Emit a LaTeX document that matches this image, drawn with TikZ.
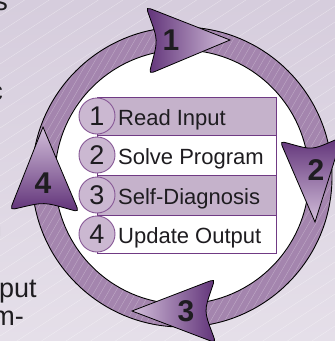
\documentclass[tikz,border=0pt]{standalone}
\usepackage{fontspec}
\setmainfont{Liberation Sans}
\usetikzlibrary{calc}

\definecolor{bgtop}{RGB}{214,205,221}
\definecolor{bgbot}{RGB}{229,223,233}
\definecolor{ringfill}{RGB}{164,133,174}
\definecolor{arrowdark}{RGB}{96,50,120}
\definecolor{arrowlight}{RGB}{210,190,218}
\definecolor{rowfill}{RGB}{197,178,203}
\definecolor{rowline}{RGB}{112,58,132}
\definecolor{badgefill}{RGB}{203,184,209}
\definecolor{badgeline}{RGB}{135,88,150}
\definecolor{inkc}{RGB}{30,28,32}

% cycle arrow: tip, back corner, back notch, back corner, shading options
\newcommand\cyclearrow[5]{%
  \shadedraw[#5, draw=black, line width=0.8pt]
    (#1) -- ($(#2)!10pt!(#1)$) .. controls (#2) .. ($(#2)!10pt!(#3)$)
    .. controls (#3) .. ($(#4)!10pt!(#3)$)
    .. controls (#4) .. ($(#4)!10pt!(#1)$) -- cycle;}

\begin{document}
\begin{tikzpicture}[x=1pt,y=-1pt,
  rowbox/.style={draw=rowline, line width=1pt, anchor=north west, inner sep=0pt,
                 minimum width=179pt},
  rowtext/.style={anchor=base west, inner sep=0pt, text=inkc,
                  font=\fontsize{22}{22}\selectfont},
  badge/.style={circle, draw=badgeline, line width=0.9pt, fill=badgefill,
                minimum size=36pt, inner sep=0pt, text=inkc,
                font=\fontsize{27}{27}\selectfont},
  steplabel/.style={inner sep=0pt, text=inkc, font=\fontsize{30}{30}\selectfont\bfseries},
  sidetext/.style={inner sep=0pt, text=inkc, font=\fontsize{27}{27}\selectfont}]

\useasboundingbox (0,0) rectangle (335,341);
\begin{scope}
\clip (0,0) rectangle (335,341);

% background with faint diagonal hatching
\shade[top color=bgtop, bottom color=bgbot] (0,0) rectangle (335,341);
\foreach \c in {0,16,...,576}
  \draw[white, opacity=0.4, line width=0.4pt] (0,\c) -- (335,\c-218);

% cut-off text at the left edge
\node[sidetext, anchor=base east] (s1) at (8,10) {s};
\node[sidetext, anchor=base east] (s2) at (3,100) {c};
\node[sidetext, anchor=base east] (s3) at (2,236) {n};
\node[sidetext, anchor=base west] (s4) at (-1,297) {put};
\node[sidetext, anchor=base east] (s5) at (24,325) {m-};

% ring
\coordinate (ctr) at (182,177);
\fill[ringfill] (ctr) circle[radius=150pt];
\begin{scope}
  \clip (ctr) circle[radius=150pt];
  \foreach \c in {-200,-193,...,340}
    \draw[white, opacity=0.3, line width=0.4pt] (\c,341) -- (\c+197,0);
\end{scope}
\fill[white] (ctr) circle[radius=127pt];
\draw[black, line width=0.9pt] (ctr) circle[radius=150pt] (ctr) circle[radius=127pt];

% list of steps
\node[rowbox, fill=rowfill, minimum height=38pt] (r1) at (97,97) {};
\node[rowbox, fill=white,   minimum height=40pt] (r2) at (97,135) {};
\node[rowbox, fill=rowfill, minimum height=40pt] (r3) at (97,175) {};
\node[rowbox, fill=white,   minimum height=38pt] (r4) at (97,215) {};

\node[badge] (b1) at (97,116) {1};
\node[badge] (b2) at (97,155) {2};
\node[badge] (b3) at (97,195) {3};
\node[badge] (b4) at (97,234) {4};

\node[rowtext] (t1) at (118,125) {Read Input};
\node[rowtext] (t2) at (118,164) {Solve Program};
\node[rowtext] (t3) at (118,204) {Self-Diagnosis};
\node[rowtext] (t4) at (118,243) {Update Output};

% arrows around the ring
\cyclearrow{230,40}{146,7}{158,40}{149,74}{left color=arrowdark, right color=arrowlight}
\cyclearrow{315,222}{342,137}{312,150}{280,141}{top color=arrowdark, bottom color=arrowlight}
\cyclearrow{132,311}{216,343}{204,311}{215,279}{left color=arrowlight, right color=arrowdark}
\cyclearrow{43,127}{10,210}{44,202}{79,212}{top color=arrowlight, bottom color=arrowdark}

\node[steplabel] (n1) at (171,40) {1};
\node[steplabel] (n2) at (316,170) {2};
\node[steplabel] (n3) at (186,311) {3};
\node[steplabel] (n4) at (43,183) {4};
\end{scope}
\end{tikzpicture}
\end{document}
